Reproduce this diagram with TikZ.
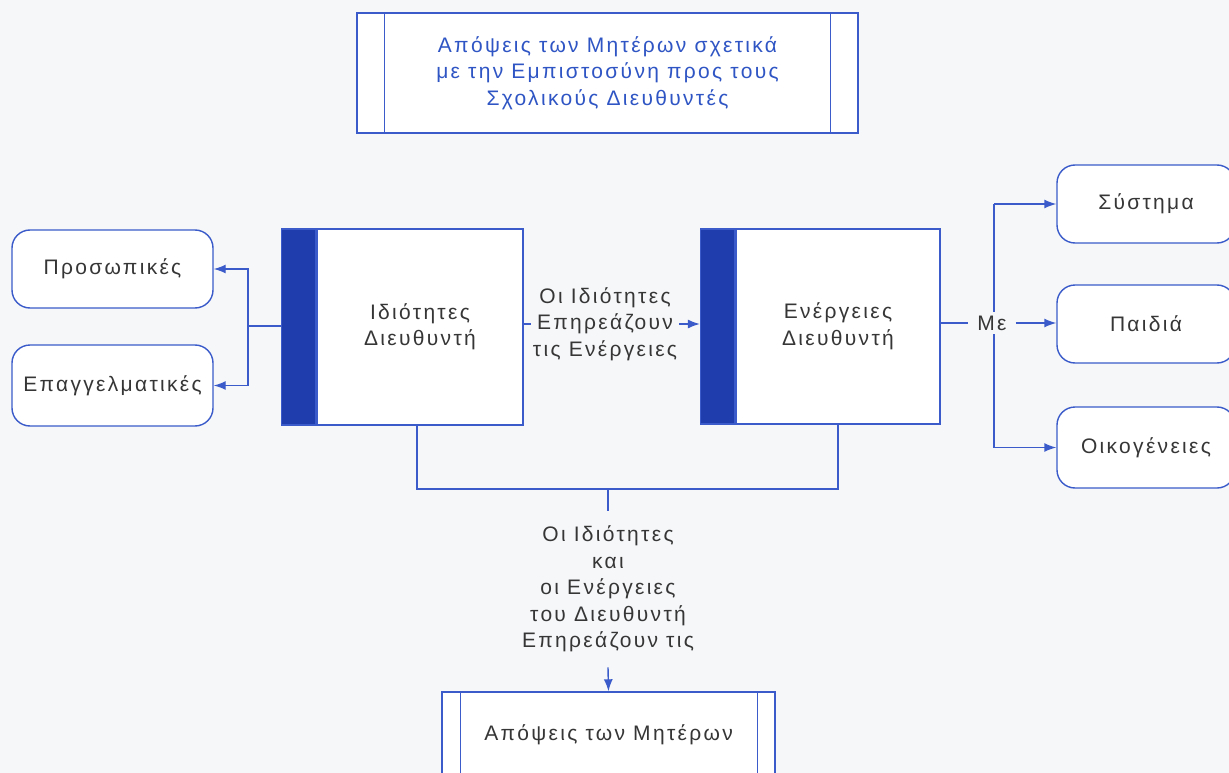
\documentclass[tikz,border=0pt]{standalone}
\usepackage{fontspec}
\setmainfont[LetterSpace=11]{Liberation Sans}
\usetikzlibrary{arrows.meta,positioning,calc}
\definecolor{bg}{HTML}{F6F7F9}
\definecolor{ln}{HTML}{3A5BC9}
\definecolor{bar}{HTML}{1F3DAD}
\definecolor{tx}{HTML}{363636}
\definecolor{tt}{HTML}{2F55C4}
\tikzset{
  every node/.style={font=\fontsize{21}{26.5}\selectfont, text=tx, align=center},
  conn/.style={draw=ln, line width=1.4pt},
  arr/.style={conn, -{Latex[length=12pt,width=9pt]}},
  rbox/.style={draw=ln, line width=1.4pt, rounded corners=18pt, fill=white, minimum width=201pt, minimum height=78pt, inner sep=0pt},
  sbox/.style={draw=ln, line width=1.4pt, fill=white, inner sep=0pt},
  barbox/.style={draw=ln, line width=1.4pt, fill=bar, inner sep=0pt, minimum width=34pt, minimum height=196pt},
  lbl/.style={inner sep=2pt}
}
\begin{document}
\begin{tikzpicture}[x=1pt,y=-1pt]
\clip (0,0) rectangle (1229,773);
\fill[bg] (0,0) rectangle (1229,773);
% title
\node[sbox, minimum width=501pt, minimum height=120pt, text=tt] (title) at (607.5,73) {Απόψεις των Μητέρων σχετικά\\με την Εμπιστοσύνη προς τους\\Σχολικούς Διευθυντές};
\draw[conn] ([xshift=28pt]title.north west) -- ([xshift=28pt]title.south west);
\draw[conn] ([xshift=-28pt]title.north east) -- ([xshift=-28pt]title.south east);
% left boxes
\node[rbox] (pros) at (112.5,269) {Προσωπικές};
\node[rbox, minimum height=81pt] (epag) at (112.5,385.5) {Επαγγελματικές};
% box 1
\node[sbox, minimum width=206pt, minimum height=196pt] (b1) at (420,327) {Ιδιότητες\\Διευθυντή};
\node[barbox, anchor=east] (b1bar) at (b1.west) {};
% box 2
\node[sbox, minimum width=204pt, minimum height=195pt] (b2) at (838,326.5) {Ενέργειες\\Διευθυντή};
\node[barbox, minimum height=195pt, anchor=east] (b2bar) at (b2.west) {};
% right boxes
\node[rbox, minimum width=178pt] (sys) at (1146,204) {Σύστημα};
\node[rbox, minimum width=178pt] (paid) at (1146,324) {Παιδιά};
\node[rbox, minimum width=178pt, minimum height=81pt] (oik) at (1146,447.5) {Οικογένειες};
% bottom box
\node[sbox, minimum width=333pt, minimum height=86pt] (bot) at (608.5,735) {Απόψεις των Μητέρων};
\draw[conn] ([xshift=19pt]bot.north west) -- ([xshift=19pt]bot.south west);
\draw[conn] ([xshift=-18pt]bot.north east) -- ([xshift=-18pt]bot.south east);
% left connectors
\coordinate (jL) at (248,326);
\draw[conn] (b1bar.west |- jL) -- (jL);
\draw[arr] (jL) |- (pros.east);
\draw[arr] (jL) |- (epag.east);
% middle
\node[lbl] (mid) at (605,324) {Οι Ιδιότητες\\Επηρεάζουν\\τις Ενέργειες};
\draw[conn] (b1.east |- mid) -- (mid.west);
\draw[arr] (mid.east) -- (b2bar.west |- mid);
% right
\coordinate (jR) at (994,323);
\draw[conn] (jR |- sys.west) -- (jR |- oik.west);
\node[fill=bg, inner xsep=9pt, inner ysep=4pt] (me) at (992,323) {Με};
\draw[conn] (b2.east |- me) -- (me.west);
\draw[arr] (me.east) -- (paid.west |- me);
\draw[arr] (jR |- sys.west) -- (sys.west);
\draw[arr] (jR |- oik.west) -- (oik.west);
% bottom
\coordinate (jB) at (608,489);
\node[inner xsep=2pt, inner ysep=15pt] (blab) at (608,589) {Οι Ιδιότητες\\και\\οι Ενέργειες\\του Διευθυντή\\Επηρεάζουν τις};
\draw[conn] ([xshift=-3pt]b1.south) |- (jB) -| (b2.south);
\draw[conn] (jB) -- (blab.north);
\draw[arr] (blab.south) -- (bot.north);
\end{tikzpicture}
\end{document}
